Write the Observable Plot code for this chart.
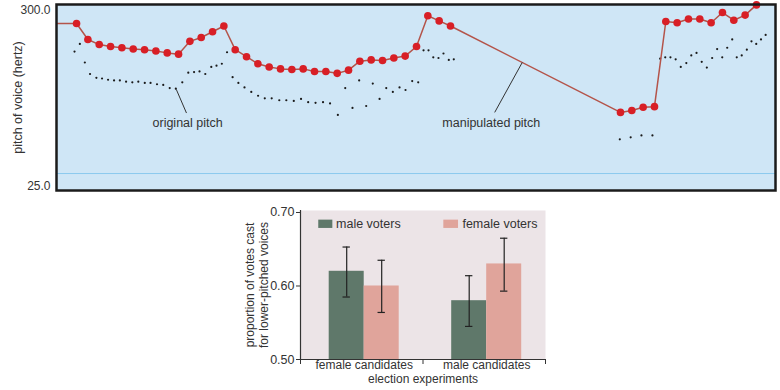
<!DOCTYPE html>
<html>
<head>
<meta charset="utf-8">
<script src="https://cdn.jsdelivr.net/npm/d3@7"></script>
<script src="https://cdn.jsdelivr.net/npm/@observablehq/plot@0.6"></script>
<style>
  body { margin: 0; background: #fff; }
  #topChart, #bottomChart { width: 780px; height: 195px; overflow: hidden; }
  svg { display: block; }
</style>
</head>
<body>
<div id="topChart"></div>
<div id="bottomChart"></div>
<script>
// ---------- Top panel data: pitch of voice (hertz) by sample frame ----------
const pitchTicks = [25, 300];
const manipFrame = [0,1,2,3,4,5,6,7,8,9,10,11,12,13,14,15,16,17,18,19,20,21,22,23,24,25,26,27,28,29,30,31,32,33,
                    48,49,50,51,52,53,54,55,56,57,58,59,60];
const manipPitch = [279,254,246,243,241,239,238,236,233,231,
                    251,257,266,275,238,227,216,211,208,207,
                    208,204,204,201,206,220,222,221,225,228,
                    243,291,283,275,
                    140,143,148,149,282,280,286,286,280,296,284,292,308];
const manipLeadIn = [-1.77, 279];
const manipLeadOut = [61.5, 314];

const origFrame = [-0.18,0.29,0.73,1.19,1.75,2.25,2.78,3.31,3.82,4.37,
                   4.92,5.45,6.02,6.53,7.10,7.65,8.22,8.76,9.33,9.86,
                   10.37,10.85,11.36,11.89,12.35,12.82,13.28,13.77,14.28,14.82,
                   15.42,16.02,16.61,17.22,17.89,18.51,19.17,19.81,20.44,21.09,
                   21.75,22.37,23.06,23.71,24.35,24.94,25.56,26.14,26.74,27.33,
                   27.91,28.50,29.03,29.62,30.15,30.62,31.06,31.48,31.94,32.38,
                   32.85,33.29,
                   47.94,48.90,49.85,50.82,
                   51.50,51.95,52.41,52.87,53.32,53.81,54.25,54.71,55.17,55.62,
                   56.09,56.53,56.98,57.42,57.86,58.26,58.70,59.15,59.56,59.98,
                   60.40,60.81];
const origPitch = [235,247,218,200,194,193,191,190,190,188,
                   187,188,186,186,184,183,178,177,187,202,
                   203,204,200,211,213,216,234,195,186,179,
                   172,166,162,162,159,159,158,161,156,155,
                   156,154,136,178,147,190,150,185,161,178,
                   172,179,175,189,187,237,237,226,225,232,
                   222,223,
                   98,101,104,104,
                   224,226,226,223,211,217,229,233,219,210,
                   225,239,226,241,254,226,229,238,251,247,
                   254,261];
const baselinePitch = [44.5];

const annLabels = ["original pitch", "manipulated pitch"];
const annFrame = [9.8, 36.6];
const annPitch = [124, 124];
const leaderFrom = [[8.8, 176], [39.33, 218]];
const leaderTo = [[9.7, 139], [36.9, 140]];

// ---------- Bottom panel data ----------
const groups = ["female candidates", "male candidates"];
const voterSeries = ["male voters", "female voters"];
const voteShare = [[0.62, 0.60], [0.58, 0.63]];
const ciLow = [[0.585, 0.564], [0.545, 0.593]];
const ciHigh = [[0.653, 0.635], [0.614, 0.665]];
const shareTicks = [0.5, 0.6, 0.7];

// ---------- Build top ----------
const manip = manipFrame.map((f, i) => ({frame: f, pitch: manipPitch[i]}));
const manipLine = [{frame: manipLeadIn[0], pitch: manipLeadIn[1]}, ...manip, {frame: manipLeadOut[0], pitch: manipLeadOut[1]}];
const orig = origFrame.map((f, i) => ({frame: f, pitch: origPitch[i]}));
const ann = annLabels.map((l, i) => ({label: l, frame: annFrame[i], pitch: annPitch[i],
  x1: leaderFrom[i][0], y1: leaderFrom[i][1], x2: leaderTo[i][0], y2: leaderTo[i][1]}));

const font = "'Liberation Sans', Arial, Helvetica, sans-serif";

const topPlot = Plot.plot({
  width: 780, height: 195,
  marginLeft: 56, marginRight: 5, marginTop: 4, marginBottom: 5,
  style: {fontFamily: font, fontSize: "12px", color: "#333", background: "transparent"},
  x: {domain: [-1.77, 61.68], axis: null},
  y: {domain: [17.97, 308.6], axis: null},
  marks: [
    Plot.frame({fill: "#cfe6f6"}),
    Plot.ruleY(baselinePitch, {stroke: "#8ccaee", strokeWidth: 1}),
    Plot.axisY({ticks: pitchTicks, tickFormat: d => d.toFixed(1), tickSize: 0, tickPadding: 6, label: null, fontSize: 12}),
    Plot.text(["pitch of voice (hertz)"], {frameAnchor: "left", textAnchor: "middle", rotate: -90, dx: -39, fontSize: 12.5, fill: "#333"}),
    Plot.dot(orig, {x: "frame", y: "pitch", r: 1.1, fill: "#1a1a1a", stroke: null}),
    Plot.line(manipLine, {x: "frame", y: "pitch", stroke: "#b4544a", strokeWidth: 1.5, clip: true}),
    Plot.dot(manip, {x: "frame", y: "pitch", r: 3.8, fill: "#d81f26", stroke: null}),
    Plot.link(ann, {x1: "x1", y1: "y1", x2: "x2", y2: "y2", stroke: "#333", strokeWidth: 1}),
    Plot.text(ann, {x: "frame", y: "pitch", text: "label", fontSize: 12.5, fill: "#333"}),
    Plot.frame({stroke: "#1b1b1b", strokeWidth: 2.5})
  ]
});
document.getElementById("topChart").append(topPlot);

// ---------- Build bottom ----------
const barW = 0.2857, shift = 0.02;
const rows = groups.flatMap((g, gi) => voterSeries.map((s, si) => {
  const x1 = gi + 0.5 + shift + (si - 1) * barW;
  return {group: g, series: s, value: voteShare[gi][si], lo: ciLow[gi][si], hi: ciHigh[gi][si],
          x1, x2: x1 + barW, xc: x1 + barW / 2};
}));
const legendRows = voterSeries.map((s, si) => ({series: s,
  sx1: [0.149, 1.170][si], sx2: [0.264, 1.290][si], tx: [0.29, 1.322][si]}));

const bottomPlot = Plot.plot({
  width: 780, height: 195,
  marginLeft: 300, marginRight: 235, marginTop: 15, marginBottom: 31,
  style: {fontFamily: font, fontSize: "12px", color: "#333", background: "transparent"},
  x: {domain: [0, 2], axis: null},
  y: {domain: [0.5, 0.7027], axis: null},
  color: {domain: voterSeries, range: ["#5f786a", "#e0a49b"]},
  marks: [
    Plot.frame({fill: "#ece4e7"}),
    Plot.rect(rows, {x1: "x1", x2: "x2", y1: () => 0.5, y2: "value", fill: "series"}),
    Plot.ruleX(rows, {x: "xc", y1: "lo", y2: "hi", stroke: "#222", strokeWidth: 1.2}),
    Plot.ruleY(rows, {y: "lo", x1: d => d.xc - 0.03, x2: d => d.xc + 0.03, stroke: "#222", strokeWidth: 1.2}),
    Plot.ruleY(rows, {y: "hi", x1: d => d.xc - 0.03, x2: d => d.xc + 0.03, stroke: "#222", strokeWidth: 1.2}),
    Plot.rect(legendRows, {x1: "sx1", x2: "sx2", y1: () => 0.6783, y2: () => 0.6896, fill: "series"}),
    Plot.text(legendRows, {x: "tx", y: () => 0.684, text: "series", textAnchor: "start", fontSize: 12.5, fill: "#333"}),
    Plot.ruleX([0], {y1: 0.5, y2: 0.7027, stroke: "#333", strokeWidth: 1.2}),
    Plot.ruleY([0.5], {stroke: "#333", strokeWidth: 1.2}),
    Plot.axisY({ticks: shareTicks, tickFormat: ".2f", tickSize: 4, tickPadding: 2, label: null, fontSize: 12.5}),
    Plot.axisX({ticks: [0, 1, 2], tickFormat: () => "", tickSize: 5, label: null}),
    Plot.text(groups, {x: (d, i) => i + 0.5 + shift, frameAnchor: "bottom", dy: 9, fontSize: 12, fill: "#333"}),
    Plot.text(["election experiments"], {frameAnchor: "bottom", dy: 23, fontSize: 12, fill: "#333"}),
    Plot.text(["proportion of votes cast\nfor lower-pitched voices"], {frameAnchor: "left", textAnchor: "middle", rotate: -90, dx: -44, lineHeight: 1.14, fontSize: 12, fill: "#333"})
  ]
});
document.getElementById("bottomChart").append(bottomPlot);
</script>
</body>
</html>
